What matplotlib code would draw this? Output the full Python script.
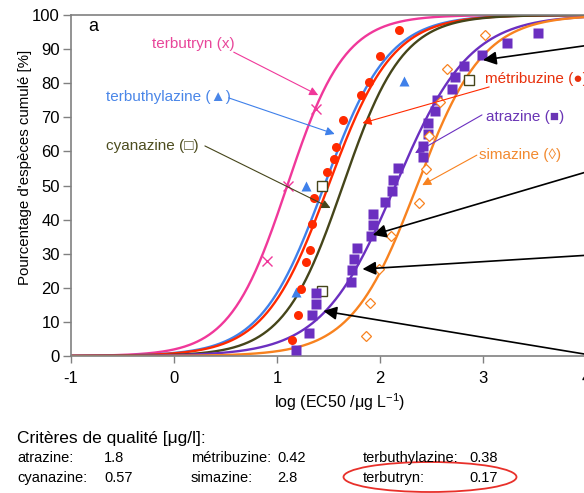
import numpy as np
import matplotlib
matplotlib.use('Agg')
import matplotlib.pyplot as plt
from matplotlib.patches import Ellipse

plt.rcParams['font.family'] = ['Liberation Sans', 'DejaVu Sans']
plt.rcParams['mathtext.default'] = 'regular'
plt.rcParams['axes.unicode_minus'] = False

# fitted log-logistic curves (location, scale) per herbicide
species = ['terbutryn', 'terbuthylazine', 'métribuzine', 'cyanazine', 'atrazine', 'simazine']
curve_mu = [1.10, 1.46, 1.50, 1.64, 2.15, 2.36]
curve_s = [0.28, 0.31, 0.31, 0.29, 0.36, 0.32]
colors = ['#f0389a', '#3f80ea', '#ff2a00', '#45451a', '#6b2fc0', '#f8821f']

# observed EC50 points
terbutryn_x = [0.90, 1.11, 1.38]
terbutryn_y = [27.9, 49.9, 72.4]
terbuthylazine_x = [1.18, 1.28, 2.23]
terbuthylazine_y = [18.8, 49.9, 80.6]
cyanazine_x = [1.44, 1.44, 2.86]
cyanazine_y = [19.1, 49.9, 80.9]
metribuzine_x = [1.15, 1.20, 1.23, 1.28, 1.32, 1.34, 1.36, 1.49, 1.55, 1.57,
                 1.64, 1.82, 1.89, 2.00, 2.18]
metribuzine_y = [4.7, 12.0, 19.6, 27.6, 31.1, 38.7, 46.3, 54.0, 57.8, 61.3,
                 69.2, 76.5, 80.4, 88.0, 95.6]
atrazine_x = [1.18, 1.31, 1.34, 1.38, 1.38, 1.72, 1.73, 1.75, 1.78, 1.91,
              1.93, 1.93, 2.05, 2.12, 2.13, 2.17, 2.42, 2.42, 2.47, 2.47,
              2.53, 2.55, 2.70, 2.73, 2.82, 2.99, 3.23, 3.53]
atrazine_y = [1.8, 6.7, 12.0, 15.2, 18.5, 21.7, 25.2, 28.4, 31.7, 35.2,
              38.4, 41.6, 45.2, 48.4, 51.5, 55.1, 58.4, 61.6, 65.1, 68.3,
              71.8, 75.1, 78.3, 81.8, 85.0, 88.3, 91.8, 94.7]
simazine_x = [1.86, 1.90, 1.99, 2.11, 2.38, 2.45, 2.48, 2.58, 2.65, 3.02]
simazine_y = [5.9, 15.5, 25.5, 35.2, 44.9, 54.8, 64.5, 74.5, 84.2, 94.1]

# labels: text, text position, arrow tail, arrow head
labels = ['terbutryn (x)', 'terbuthylazine (\u25B2)', 'métribuzine (\u25CF)',
          'cyanazine (\u25A1)', 'atrazine (\u25A0)', 'simazine (\u25CA)']
label_pos = [(-0.21, 91.5), (-0.66, 76.0), (3.02, 81.2), (-0.66, 61.6), (3.03, 70.1), (2.96, 58.9)]
label_tail = [(0.58, 89.1), (0.53, 75.7), (3.06, 78.9), (0.30, 61.6), (2.99, 70.7), (2.94, 58.9)]
label_head = [(1.40, 76.5), (1.56, 65.1), (1.83, 68.3), (1.52, 43.4), (2.34, 59.5), (2.41, 50.1)]
text_colors = ['#e8469a', '#4a86e8', '#e8300c', '#4d4d1f', '#6a35b5', '#f28a30']

# black arrows coming from outside the panel
black_tail = [(4.04, 91.2), (4.04, 54.3), (4.04, 29.6), (4.04, 0.3)]
black_head = [(3.00, 86.8), (1.93, 35.5), (1.83, 25.5), (1.45, 13.2)]

# quality criteria table
crit_names = [['atrazine:', 'métribuzine:', 'terbuthylazine:'],
              ['cyanazine:', 'simazine:', 'terbutryn:']]
crit_vals = [['1.8', '0.42', '0.38'],
             ['0.57', '2.8', '0.17']]

W, H = 584, 493
fig = plt.figure(figsize=(W / 100, H / 100), dpi=100)
ax = fig.add_axes([71 / W, 1 - 356 / H, 515 / W, 341 / H])

xx = np.linspace(-1, 4, 400)
for mu, s, c in zip(curve_mu, curve_s, colors):
    ax.plot(xx, 100 / (1 + np.exp(-(xx - mu) / s)), color=c, lw=1.7, zorder=2)

ax.plot(terbutryn_x, terbutryn_y, 'x', color=colors[0], ms=7, mew=1.0, zorder=3)
ax.plot(terbuthylazine_x, terbuthylazine_y, '^', color=colors[1], ms=7, mec='none', zorder=3)
ax.plot(metribuzine_x, metribuzine_y, 'o', color=colors[2], ms=6.5, mec='none', zorder=3)
ax.plot(cyanazine_x, cyanazine_y, 's', mfc='white', mec=colors[3], ms=7, mew=1.0, zorder=3)
ax.plot(atrazine_x, atrazine_y, 's', color=colors[4], ms=6.5, mec='none', zorder=3)
ax.plot(simazine_x, simazine_y, 'D', mfc='white', mec=colors[5], ms=5.5, mew=0.9, zorder=3)

for txt, pos, tail, head, tc, lc in zip(labels, label_pos, label_tail, label_head, text_colors, colors):
    ax.text(pos[0], pos[1], txt, color=tc, fontsize=11, ha='left', va='center',
            family=['Liberation Sans', 'DejaVu Sans'], zorder=5)
    ax.annotate('', xy=head, xytext=tail,
                arrowprops=dict(arrowstyle='-|>', color=lc, lw=0.8, mutation_scale=13,
                                shrinkA=0, shrinkB=0), zorder=5)

for tail, head in zip(black_tail, black_head):
    ax.annotate('', xy=head, xytext=tail, annotation_clip=False,
                arrowprops=dict(arrowstyle='-|>', color='black', lw=1.2, mutation_scale=20,
                                shrinkA=0, shrinkB=0), zorder=6)

ax.text(-0.835, 96.5, 'a', fontsize=13, ha='left', va='center')

ax.set_xlim(-1, 4)
ax.set_ylim(0, 100)
ax.set_xticks(range(-1, 5))
ax.set_yticks(range(0, 101, 10))
ax.tick_params(labelsize=12, color='#808080', length=6, width=1, pad=2)
ax.tick_params(axis='x', length=5, pad=6)
for side in ['left', 'bottom', 'top']:
    ax.spines[side].set_color('#808080')
    ax.spines[side].set_linewidth(1.2)
ax.spines['right'].set_visible(False)

fig.text(25 / W, 1 - 167 / H, "Pourcentage d'espèces cumulé [%]", rotation=90,
         fontsize=10.8, ha='center', va='center')
fig.text(340 / W, 1 - 402 / H, 'log (EC50 /\u03bcg L$^{-1}$)', fontsize=11.5,
         ha='center', va='center')

fig.text(17 / W, 1 - 438 / H, 'Critères de qualité [\u03bcg/l]:', fontsize=12.5,
         ha='left', va='center')
col_name_x = [17, 191, 363]
col_val_x = [104, 277, 469]
row_y = [458, 478]
for r in range(2):
    for c in range(3):
        fig.text(col_name_x[c] / W, 1 - row_y[r] / H, crit_names[r][c], fontsize=10.5,
                 ha='left', va='center')
        fig.text(col_val_x[c] / W, 1 - row_y[r] / H, crit_vals[r][c], fontsize=10.5,
                 ha='left', va='center')

fig.add_artist(Ellipse((430 / W, 1 - 477 / H), 173 / W, 30 / H, transform=fig.transFigure,
                       fill=False, ec='#e8302a', lw=1.3))

fig.savefig('out.png', dpi=100)
